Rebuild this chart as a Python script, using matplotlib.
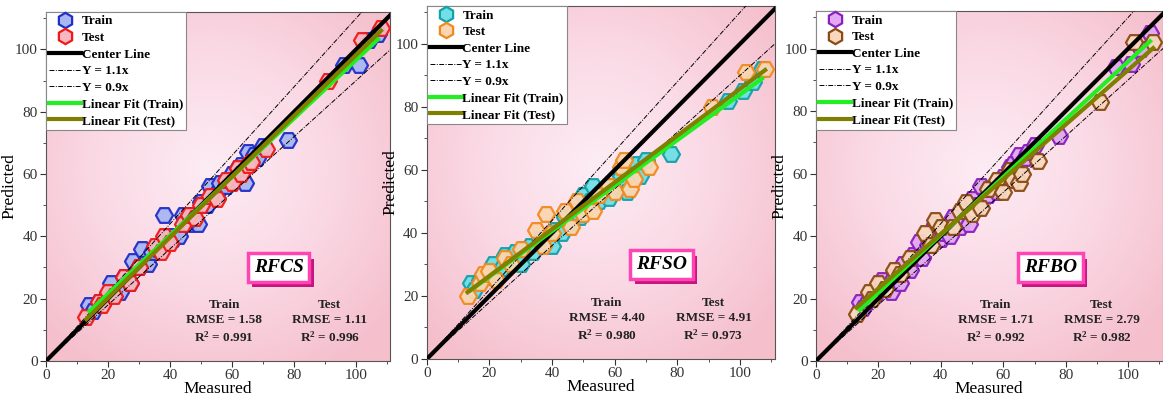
import numpy as np
import matplotlib
matplotlib.use("Agg")
import matplotlib.pyplot as plt
from matplotlib.lines import Line2D
from matplotlib import patheffects
from matplotlib.colors import LinearSegmentedColormap

plt.rcParams['font.family'] = ['Liberation Serif', 'DejaVu Serif']
plt.rcParams['mathtext.fontset'] = 'custom'
plt.rcParams['mathtext.rm'] = 'Liberation Serif'
plt.rcParams['mathtext.bf'] = 'Liberation Serif:bold'

# ---- data ----
train_measured = [14, 15, 17, 19, 21, 22, 24, 25, 27, 28, 30, 31, 33, 34, 36, 38, 40, 41, 43, 44, 46,
                  47, 49, 50, 52, 53, 55, 56, 58, 60, 62, 63, 64, 65, 67, 68, 70, 78, 96, 101, 104, 107]
test_measured = [13, 17, 18, 20, 22, 25, 27, 30, 35, 37, 38, 40, 44, 46, 48, 50, 53, 55, 58, 60, 62,
                 63, 65, 66, 71, 91, 102, 108]

rfcs_train = [18, 16, 19, 20, 25, 22, 22, 27, 25, 32, 30, 36, 31, 35, 36, 47, 40, 39, 40, 47, 44,
              47, 44, 51, 50, 56, 54, 57, 56, 60, 62, 63, 57, 67, 66, 65, 69, 71, 95, 95, 103, 105]
rfcs_test = [14, 19, 18, 22, 21, 27, 25, 30, 37, 35, 40, 38, 44, 47, 46, 50, 53, 52, 58, 57, 62,
             60, 63, 64, 68, 90, 103, 107]

rfso_train = [24, 22, 25, 26, 30, 27, 29, 33, 31, 34, 30, 35, 36, 34, 38, 37, 36, 41, 40, 45, 43,
              47, 45, 52, 50, 55, 50, 52, 51, 55, 58, 55, 53, 60, 62, 58, 63, 65, 82, 85, 88, 92]
rfso_test = [20, 24, 27, 28, 25, 32, 30, 35, 41, 36, 46, 40, 47, 42, 50, 46, 47, 52, 55, 53, 61,
             63, 54, 57, 61, 80, 91, 92]

rfbo_train = [19, 17, 20, 21, 26, 23, 22, 27, 25, 31, 29, 34, 38, 33, 37, 44, 39, 41, 40, 46, 43,
              45, 44, 52, 50, 56, 53, 55, 54, 59, 62, 63, 61, 66, 65, 67, 69, 72, 94, 95, 100, 105]
rfbo_test = [15, 22, 20, 25, 23, 29, 28, 33, 41, 37, 45, 43, 43, 48, 51, 47, 49, 55, 58, 54, 61,
             58, 57, 60, 64, 83, 102, 102]

models = ['RFCS', 'RFSO', 'RFBO']
train_preds = [rfcs_train, rfso_train, rfbo_train]
test_preds = [rfcs_test, rfso_test, rfbo_test]
train_stats = [('1.58', '0.991'), ('4.40', '0.980'), ('1.71', '0.992')]
test_stats = [('1.11', '0.996'), ('4.91', '0.973'), ('2.79', '0.982')]

# (edge, face) colours per panel
train_colors = [('#1f2fc8', '#a9b6f2'), ('#16a0a8', '#6fe0e6'), ('#8a1fc0', '#e2a8f2')]
test_colors = [('#f01818', '#f8b8c0'), ('#f08a1e', '#fbd6b2'), ('#8a4a14', '#f8d8bc')]

positions = [[0.0396, 0.093, 0.296, 0.877],
             [0.367, 0.098, 0.299, 0.887],
             [0.7016, 0.093, 0.298, 0.879]]

# pink radial background
bg_cmap = LinearSegmentedColormap.from_list('bg', ['#fdecf3', '#fad9e5', '#f5bfcc'])
gx, gy = np.meshgrid(np.linspace(0, 1, 300), np.linspace(0, 1, 300))
bg = np.sqrt(((gx - 0.48) / 0.75) ** 2 + ((gy - 0.55) / 0.75) ** 2)

dashdot = (0, (5, 1.5, 1, 1.5))

fig = plt.figure(figsize=(11.63, 3.98), dpi=100)

for i in range(3):
    ax = fig.add_axes(positions[i])
    ax.imshow(bg, cmap=bg_cmap, extent=[0, 1, 0, 1], transform=ax.transAxes,
              aspect='auto', origin='lower', zorder=0, vmin=0, vmax=0.9)

    xt = np.array(train_measured)
    yt = np.array(train_preds[i])
    xs = np.array(test_measured)
    ys = np.array(test_preds[i])

    ax.scatter(xt, yt, marker='H', s=150, edgecolors=train_colors[i][0],
               facecolors=train_colors[i][1], linewidths=1.6, zorder=2, alpha=0.95)
    ax.scatter(xs, ys, marker='H', s=150, edgecolors=test_colors[i][0],
               facecolors=test_colors[i][1], linewidths=1.6, zorder=3, alpha=0.95)

    xx = np.array([0, 120])
    ax.plot(xx, xx, color='black', lw=3, zorder=4)
    ax.plot(xx, 1.1 * xx, color='black', lw=0.7, ls=dashdot, zorder=4)
    ax.plot(xx, 0.9 * xx, color='black', lw=0.7, ls=dashdot, zorder=4)

    pt = np.polyfit(xt, yt, 1)
    ps = np.polyfit(xs, ys, 1)
    lt = np.array([xt.min(), xt.max()])
    ls_ = np.array([xs.min(), xs.max()])
    ax.plot(lt, np.polyval(pt, lt), color='#22ee22', lw=3, zorder=5)
    ax.plot(ls_, np.polyval(ps, ls_), color='#7f7f00', lw=3, zorder=5)

    ax.set_xlim(0, 111)
    ax.set_ylim(0, 112)
    ax.set_xticks(np.arange(0, 101, 20))
    ax.set_yticks(np.arange(0, 101, 20))
    ax.set_xticks(np.arange(10, 111, 10), minor=True)
    ax.set_yticks(np.arange(10, 111, 10), minor=True)
    ax.tick_params(which='major', direction='out', length=4, pad=2, labelsize=11, colors='#333333')
    ax.tick_params(which='minor', direction='out', length=2.5, colors='#333333')
    for sp in ax.spines.values():
        sp.set_color('#555555')
        sp.set_linewidth(0.8)
    ax.set_xlabel('Measured', fontsize=12.5, labelpad=-1)
    ax.set_ylabel('Predicted', fontsize=12.5)
    ax.yaxis.set_label_coords(-0.083, 0.5)

    handles = [
        Line2D([], [], marker='h', ls='none', markersize=11, markeredgewidth=1.6,
               markeredgecolor=train_colors[i][0], markerfacecolor=train_colors[i][1]),
        Line2D([], [], marker='h', ls='none', markersize=11, markeredgewidth=1.6,
               markeredgecolor=test_colors[i][0], markerfacecolor=test_colors[i][1]),
        Line2D([], [], color='black', lw=3),
        Line2D([], [], color='black', lw=0.7, ls=dashdot),
        Line2D([], [], color='black', lw=0.7, ls=dashdot),
        Line2D([], [], color='#22ee22', lw=3),
        Line2D([], [], color='#7f7f00', lw=3),
    ]
    labels = ['Train', 'Test', 'Center Line', 'Y = 1.1x', 'Y = 0.9x',
              'Linear Fit (Train)', 'Linear Fit (Test)']
    leg = ax.legend(handles, labels, loc='upper left', bbox_to_anchor=(0, 1), fancybox=False,
                    framealpha=1, edgecolor='#888888', prop={'weight': 'bold', 'size': 9.5},
                    handlelength=2.4, handletextpad=0.05, labelspacing=0.33, borderpad=0.25,
                    borderaxespad=0.0)
    leg.get_frame().set_linewidth(0.8)
    leg.set_zorder(10)

    # model name box with shadow
    t = ax.text(75, 30, models[i], fontsize=14, fontweight='bold', style='italic',
                ha='center', va='center', color='black', zorder=7,
                bbox=dict(boxstyle='square,pad=0.3', facecolor='white', edgecolor='#ff44b4', lw=2.5))
    t.get_bbox_patch().set_path_effects([
        patheffects.SimplePatchShadow(offset=(3, -4), shadow_rgbFace='#c8147e', alpha=1),
        patheffects.Normal()])

    ax.text(57.5, 12.5, 'Train\nRMSE = %s\n$\\mathbf{R^2}$ = %s' % train_stats[i],
            ha='center', va='center', fontsize=9.5, fontweight='bold', color='#222222',
            linespacing=1.35, zorder=6)
    ax.text(91.5, 12.5, 'Test\nRMSE = %s\n$\\mathbf{R^2}$ = %s' % test_stats[i],
            ha='center', va='center', fontsize=9.5, fontweight='bold', color='#222222',
            linespacing=1.35, zorder=6)

fig.savefig('out.png', dpi=100)
